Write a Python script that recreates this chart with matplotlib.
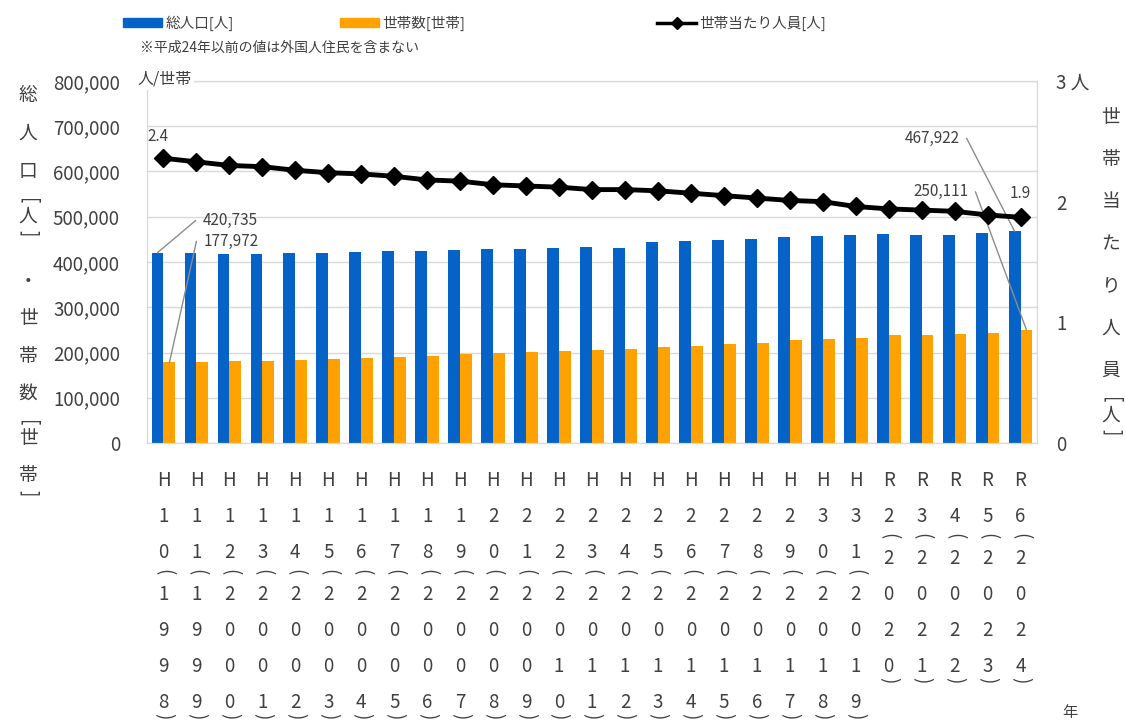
import numpy as np
import matplotlib.pyplot as plt
from matplotlib.lines import Line2D
from matplotlib.patches import Patch
from matplotlib.ticker import FuncFormatter

plt.rcParams['font.family'] = ['Noto Sans CJK JP', 'DejaVu Sans']

# 年次（和暦 / 西暦）
eras = ['H'] * 22 + ['R'] * 5
era_years = list(range(10, 32)) + list(range(2, 7))
years = list(range(1998, 2025))

# 総人口[人]
population = [420735, 420000, 418500, 418500, 420000, 420000, 422000, 424000, 425000,
              427000, 429000, 429000, 431000, 434000, 432000, 445000, 447000, 449000,
              451000, 455000, 458000, 459500, 462000, 459500, 459500, 463000, 467922]
# 世帯数[世帯]
households = [177972, 179500, 181700, 181700, 184000, 186000, 188000, 190500, 192700,
              197000, 199500, 201500, 204000, 205000, 207000, 212500, 215000, 218500,
              221500, 227000, 229000, 233000, 238000, 238000, 240000, 244000, 250111]
# 世帯当たり人員[人]
persons = [2.36, 2.33, 2.30, 2.29, 2.26, 2.24, 2.23, 2.21, 2.18, 2.17, 2.14, 2.13, 2.12,
           2.10, 2.10, 2.09, 2.07, 2.05, 2.03, 2.01, 2.00, 1.96, 1.94, 1.93, 1.92, 1.89, 1.87]

BLUE = '#0563C8'
ORANGE = '#FFA200'
TXT = '#404040'
GRID = '#d9d9d9'
W, H = 1126, 727
PT = 0.72  # px -> pt at dpi 100

fig = plt.figure(figsize=(W / 100, H / 100), dpi=100)
ax = fig.add_axes([147 / W, 1 - 443 / H, 890 / W, 362 / H])
ax2 = ax.twinx()

x = np.arange(len(years))
bw = 0.36
ax.bar(x - bw / 2, population, bw, color=BLUE, zorder=2)
ax.bar(x + bw / 2, households, bw, color=ORANGE, zorder=2)
ax.set_xlim(-0.5, len(years) - 0.5)
ax.set_ylim(0, 800000)
ax.set_yticks(range(0, 800001, 100000))
ax.yaxis.set_major_formatter(FuncFormatter(lambda v, p: f'{v:,.0f}'))
ax.grid(axis='y', color=GRID, lw=1, zorder=0)
ax.set_axisbelow(True)
ax.tick_params(axis='y', length=0, pad=19.5, labelsize=13.5, labelcolor=TXT)
ax.tick_params(axis='x', length=0, labelbottom=False)
for a in (ax, ax2):
    for s in a.spines.values():
        s.set_color(GRID)

ax2.plot(x, persons, color='black', lw=3.5, marker='D', ms=9, zorder=3)
ax2.set_ylim(0, 3)
ax2.set_yticks([0, 1, 2, 3])
ax2.yaxis.set_major_formatter(FuncFormatter(lambda v, p: f'{v:.0f} 人' if v == 3 else f'{v:.0f}'))
ax2.tick_params(axis='y', length=0, pad=14, labelsize=13.5, labelcolor=TXT)


# 値ラベル（引き出し線付き）
def leader(axis, xi, val, dx, dy, side):
    left = side == 'left'
    axis.annotate(f'{val:,}', xy=(xi, val), xytext=(dx * PT, dy * PT),
                  textcoords='offset points', ha='left' if left else 'right',
                  va='center', fontsize=11, color=TXT,
                  arrowprops=dict(arrowstyle='-', color='#8c8c8c', lw=1,
                                  relpos=(0 if left else 1, 0.5), shrinkA=3, shrinkB=0,
                                  connectionstyle=f'arc,angleA={180 if left else 0},'
                                                  'angleB=0,armA=7,armB=0,rad=0'))


leader(ax, x[0] - bw / 2, population[0], 45, 32, 'left')
leader(ax, x[0] + bw / 2, households[0], 34, 121, 'left')
leader(ax, x[-1] - bw / 2, population[-1], -55, 93, 'right')
leader(ax, x[-1] + bw / 2, households[-1], -58, 138, 'right')

ax2.annotate(f'{persons[0]:.1f}', xy=(x[0], persons[0]), xytext=(-4, 16),
             textcoords='offset points', ha='center', va='center', fontsize=11, color=TXT)
ax2.annotate(f'{persons[-1]:.1f}', xy=(x[-1], persons[-1]), xytext=(0, 17),
             textcoords='offset points', ha='center', va='center', fontsize=11, color=TXT)


# 縦書きの年次ラベル
def tick_gap(prev, ch):
    if ch == '(':
        return 20
    if prev == '(':
        return 22
    if ch == ')':
        return 14
    return 36


for i in range(len(years)):
    chars = [eras[i]] + list(str(era_years[i])) + ['('] + list(str(years[i])) + [')']
    off = 37
    prev = None
    for ch in chars:
        if prev is not None:
            off += tick_gap(prev, ch)
        ax.annotate(ch, xy=(i, 0), xycoords=('data', 'axes fraction'),
                    xytext=(0, -off * PT), textcoords='offset points',
                    ha='center', va='center', fontsize=13.5, color=TXT,
                    rotation=-90 if ch in '()' else 0)
        prev = ch


# 縦書きの軸タイトル
def title_gap(prev, ch, full):
    if ch == '[':
        return 30
    if prev == '[':
        return 15
    if ch == ']':
        return 17
    if prev == ']':
        return 48
    return full


def vertical_title(xp, yp, text, full):
    prev = None
    for ch in text:
        if prev is not None:
            yp += title_gap(prev, ch, full)
        fig.text(xp / W, 1 - yp / H, ch, ha='center', va='center', fontsize=13.5,
                 color=TXT, rotation=-90 if ch in '[]' else 0)
        prev = ch


vertical_title(28, 96, '総人口[人]・世帯数[世帯]', 37.5)
vertical_title(1111, 118, '世帯当たり人員[人]', 42)

fig.text(137 / W, 1 - 79 / H, '人/世帯', ha='left', va='center', fontsize=11.5, color=TXT,
         bbox=dict(facecolor='white', edgecolor='none', pad=2))
fig.text(1062 / W, 1 - 713 / H, '年', ha='left', va='center', fontsize=11, color=TXT)
fig.text(140 / W, 1 - 48 / H, '※平成24年以前の値は外国人住民を含まない',
         ha='left', va='center', fontsize=10, color=TXT)

# 凡例
legend_items = [
    (Patch(color=BLUE), '総人口[人]', 123),
    (Patch(color=ORANGE), '世帯数[世帯]', 340),
    (Line2D([], [], color='black', lw=2.5, marker='D', ms=6), '世帯当たり人員[人]', 657),
]
for handle, label, xl in legend_items:
    fig.legend([handle], [label], loc='center left', bbox_to_anchor=(xl / W, 1 - 23 / H),
               frameon=False, fontsize=10.5, handlelength=2.7, handleheight=0.55,
               handletextpad=0.2, borderpad=0, borderaxespad=0, labelcolor=TXT)

fig.savefig('out.png', dpi=100)
